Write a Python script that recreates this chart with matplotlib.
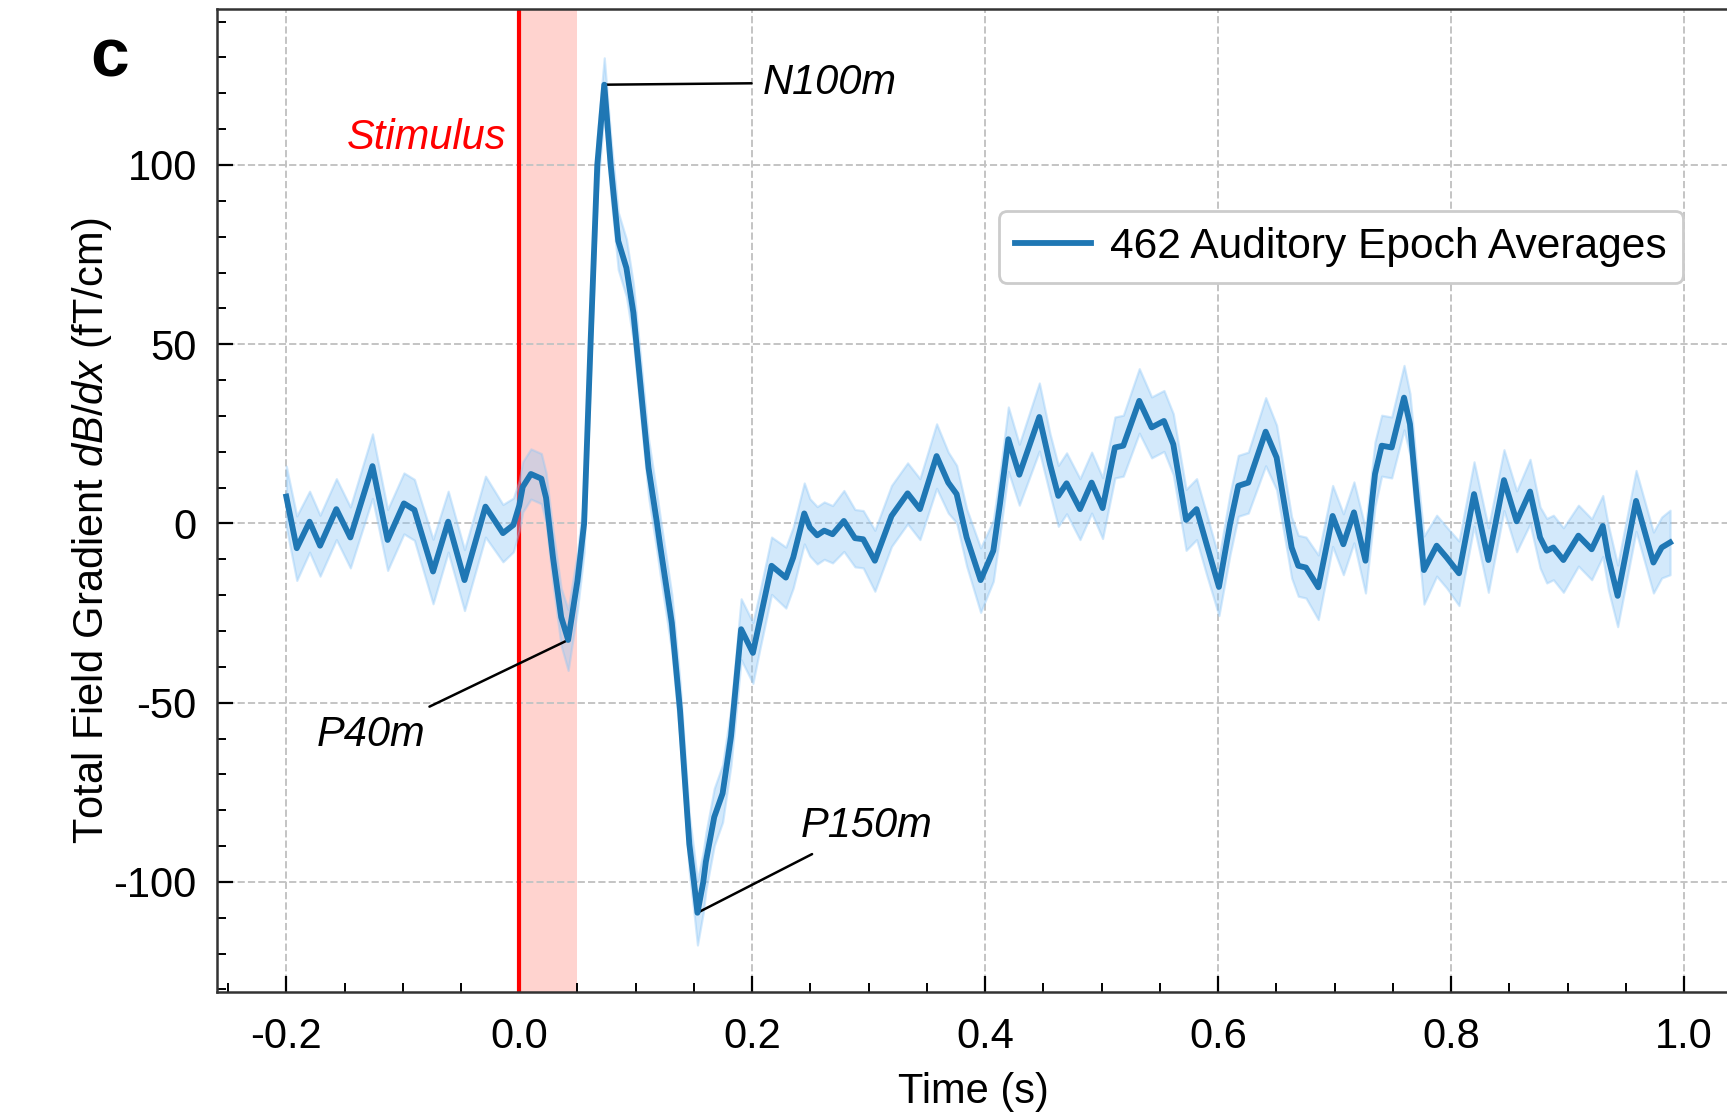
import matplotlib
matplotlib.use("Agg")
import matplotlib.pyplot as plt
from matplotlib.ticker import MultipleLocator, FormatStrFormatter

plt.rcParams['font.family'] = ['Liberation Sans', 'DejaVu Sans']
plt.rcParams['axes.unicode_minus'] = False
plt.rcParams['mathtext.fontset'] = 'custom'
plt.rcParams['mathtext.rm'] = 'Liberation Sans'
plt.rcParams['mathtext.it'] = 'Liberation Sans:italic'

# Averaged evoked response
time_s = [
    -0.200, -0.191, -0.180, -0.171, -0.157, -0.145, -0.126, -0.113, -0.099, -0.090,
    -0.074, -0.061, -0.047, -0.029, -0.014, -0.005, 0.000, 0.003, 0.010, 0.019,
    0.023, 0.029, 0.036, 0.042, 0.050, 0.0557, 0.0612, 0.067, 0.073, 0.0785,
    0.085, 0.092, 0.098, 0.104, 0.111, 0.1183, 0.121, 0.131, 0.138, 0.146,
    0.150, 0.153, 0.158, 0.1602, 0.1674, 0.1746, 0.1818, 0.1905, 0.2006, 0.2066,
    0.2166, 0.2289, 0.2352, 0.2447, 0.2495, 0.2558, 0.2618, 0.2690, 0.2787, 0.2882,
    0.2953, 0.3053, 0.3196, 0.3334, 0.3440, 0.3583, 0.3683, 0.3755, 0.3841, 0.3961,
    0.4070, 0.4127, 0.4199, 0.4293, 0.4465, 0.4557, 0.4628, 0.4699, 0.4814, 0.4914,
    0.5008, 0.5114, 0.5186, 0.5323, 0.5429, 0.5535, 0.5615, 0.5725, 0.5815, 0.5901,
    0.6007, 0.6102, 0.6173, 0.6259, 0.6408, 0.6502, 0.6631, 0.6688, 0.6754, 0.6860,
    0.6983, 0.7075, 0.7166, 0.7265, 0.7347, 0.7404, 0.7490, 0.7596, 0.7647, 0.7705,
    0.7767, 0.7876, 0.7962, 0.8068, 0.8197, 0.8320, 0.8454, 0.8563, 0.8678, 0.8764,
    0.8821, 0.8878, 0.8964, 0.9093, 0.9207, 0.9302, 0.9350, 0.9430, 0.9588, 0.9737,
    0.9808, 0.9880,
]

gradient = [
    7.5, -6.9, 0.5, -6.2, 4.0, -3.9, 16.0, -4.6, 5.6, 3.8,
    -13.4, 0.5, -15.8, 4.7, -2.7, -0.4, 5.0, 10.2, 13.8, 12.5,
    7.2, -9.5, -26.1, -32.5, -16.0, 0.0, 50.0, 100.0, 122.4, 100.0,
    78.8, 71.3, 58.8, 38.8, 15.5, 0.0, -6.2, -27.8, -52.0, -89.4,
    -100.0, -108.6, -100.0, -94.4, -81.9, -75.3, -59.4, -29.5, -36.1, -27.0,
    -11.8, -15.1, -9.5, 2.8, -1.1, -3.3, -2.0, -3.0, 0.7, -4.1,
    -4.4, -10.4, 2.1, 8.4, 4.0, 18.8, 11.4, 8.2, -3.9, -15.8,
    -7.6, 5.4, 23.5, 13.6, 29.7, 16.5, 7.7, 11.2, 4.0, 11.4,
    4.3, 21.2, 21.7, 34.2, 26.8, 28.6, 22.1, 1.0, 4.0, -5.8,
    -17.7, -0.2, 10.5, 11.4, 25.6, 18.4, -6.7, -11.8, -12.3, -17.8,
    2.1, -5.8, 3.1, -10.4, 13.8, 21.7, 21.2, 35.1, 27.7, 7.2,
    -13.0, -6.2, -9.5, -13.9, 8.2, -10.2, 12.1, 0.6, 8.9, -3.9,
    -7.6, -6.7, -10.2, -3.4, -7.2, -0.7, -9.5, -20.2, 6.3, -10.9,
    -6.7, -5.3,
]

# half width of the shaded band
band = [
    8.5, 9.0, 8.5, 8.5, 8.5, 8.5, 9.0, 8.5, 8.5, 8.5,
    9.0, 8.5, 8.5, 8.5, 8.0, 7.5, 7.0, 7.0, 7.0, 7.0,
    7.0, 7.5, 8.0, 8.5, 8.0, 8.0, 8.0, 8.0, 7.5, 8.0,
    8.0, 8.0, 8.0, 8.0, 8.0, 8.0, 8.0, 8.0, 8.0, 8.0,
    8.5, 9.0, 8.5, 8.0, 8.0, 8.0, 8.0, 8.5, 8.5, 8.0,
    8.0, 8.5, 8.5, 8.5, 8.0, 8.0, 8.0, 8.0, 8.5, 8.0,
    8.0, 8.5, 8.5, 8.5, 8.5, 9.0, 8.5, 8.0, 8.0, 9.0,
    8.5, 8.5, 9.0, 8.5, 9.5, 8.5, 8.5, 8.5, 8.5, 8.5,
    8.5, 8.5, 8.5, 9.0, 8.5, 8.5, 8.5, 8.5, 8.5, 8.5,
    8.0, 8.5, 8.5, 8.5, 9.5, 9.0, 8.5, 8.5, 8.5, 9.0,
    8.5, 8.5, 8.5, 9.0, 9.0, 8.5, 8.5, 9.0, 8.5, 8.5,
    9.5, 8.5, 8.5, 9.0, 9.0, 9.0, 8.5, 8.5, 9.0, 8.5,
    9.0, 9.0, 9.0, 8.5, 8.5, 8.5, 9.0, 8.6, 8.5, 8.5,
    8.5, 9.0,
]

stim_window = [0.0, 0.05]
x_ticks = [-0.2, 0.0, 0.2, 0.4, 0.6, 0.8, 1.0]
y_ticks = [-100, -50, 0, 50, 100]

# peaks: label, (time, value), label position
peaks = [
    ("N100m", (0.073, 122.4), (0.209, 123.0), 'left'),
    ("P40m", (0.042, -32.5), (-0.127, -58.9), 'center'),
    ("P150m", (0.153, -108.6), (0.2985, -84.4), 'center'),
]

lower = [m - b for m, b in zip(gradient, band)]
upper = [m + b for m, b in zip(gradient, band)]

fig = plt.figure(figsize=(8.635, 5.575), dpi=200)
ax = fig.add_axes([0.1257, 0.110, 0.8814, 0.8822])

ax.axvspan(stim_window[0], stim_window[1], color='#ffd3cf', lw=0, zorder=0.3)
ax.axvline(0, color='red', lw=1.5, zorder=2)
ax.fill_between(time_s, lower, upper, color='#8cc6f7', alpha=0.38, lw=0.8, zorder=3)
ax.plot(time_s, gradient, color='#1f77b4', lw=2.1, solid_joinstyle='round',
        zorder=4, label='462 Auditory Epoch Averages')

ax.text(-0.0106, 107.5, 'Stimulus', color='red', style='italic', fontsize=15,
        ha='right', va='center')

for name, point, text_pos, align in peaks:
    ax.annotate(name, xy=point, xytext=text_pos, ha=align, va='center',
                fontsize=15, style='italic',
                arrowprops=dict(arrowstyle='-', color='black', lw=0.9,
                                shrinkA=2, shrinkB=0))

ax.set_xlim(-0.2594, 1.0474)
ax.set_ylim(-130.8, 143.6)
ax.set_xticks(x_ticks)
ax.set_yticks(y_ticks)
ax.xaxis.set_major_formatter(FormatStrFormatter('%.1f'))
ax.xaxis.set_minor_locator(MultipleLocator(0.05))
ax.yaxis.set_minor_locator(MultipleLocator(10))
ax.tick_params(which='both', direction='in', top=False, right=False)
ax.tick_params(which='major', length=5.8, width=0.8, labelsize=15, pad=7.3)
ax.tick_params(axis='x', which='major', pad=8.8)
ax.tick_params(which='minor', length=3.4, width=0.7)

ax.set_axisbelow(True)
ax.grid(True, which='major', ls='--', color='#c4c4c4', lw=0.7)
for sp in ax.spines.values():
    sp.set_linewidth(0.9)
    sp.set_color('#333333')

ax.set_xlabel('Time (s)', fontsize=15)
ax.set_ylabel(r'Total Field Gradient $dB/dx$ (fT/cm)', fontsize=15)
ax.xaxis.set_label_coords(0.497, -0.081)
ax.yaxis.set_label_coords(-0.068, 0.469)

ax.legend(loc='upper left', bbox_to_anchor=(0.5134, 0.7948), borderaxespad=0,
          fontsize=15.3, handlelength=1.8, handletextpad=0.45, borderpad=0.38,
          fancybox=True, edgecolor='0.8', framealpha=1)

fig.text(0.0637, 0.931, 'c', fontsize=25, fontweight='bold', ha='center',
         va='baseline')

fig.savefig('out.png', dpi=200)
